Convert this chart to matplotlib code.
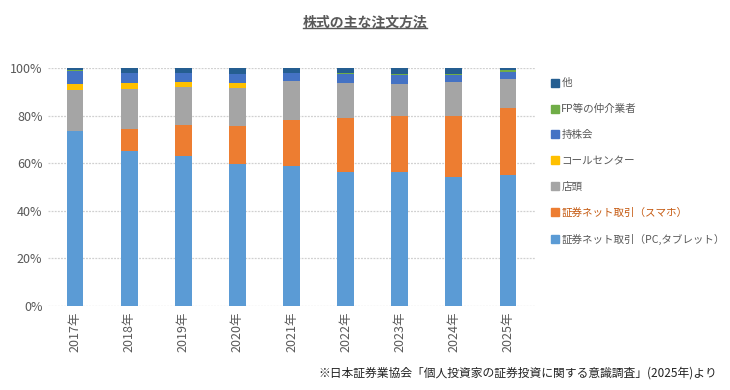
import matplotlib
matplotlib.use('Agg')
import matplotlib.pyplot as plt
from matplotlib.lines import Line2D
import numpy as np

plt.rcParams['font.family'] = ['Noto Sans CJK JP', 'DejaVu Sans']

years = ['2017年', '2018年', '2019年', '2020年', '2021年', '2022年', '2023年', '2024年', '2025年']

# percent shares, bottom to top
pc = [73.6, 65.2, 63.1, 59.7, 58.9, 56.4, 56.4, 54.3, 55.1]
smartphone = [0.0, 9.3, 13.1, 16.0, 19.1, 22.4, 23.3, 25.6, 27.9]
tento = [17.3, 16.8, 15.9, 16.0, 16.7, 15.0, 13.7, 14.3, 12.5]
call_center = [2.5, 2.5, 2.1, 2.1, 0.0, 0.0, 0.0, 0.0, 0.0]
mochikabu = [5.2, 4.2, 3.8, 3.8, 3.3, 3.8, 3.8, 3.0, 3.0]
fp = [0.4, 0.0, 0.0, 0.0, 0.0, 0.4, 0.4, 0.4, 0.8]
other = [1.0, 2.0, 2.0, 2.4, 2.0, 2.0, 2.4, 2.4, 0.7]

series = [
    ('証券ネット取引（PC,タブレット）', pc, '#5B9BD5'),
    ('証券ネット取引（スマホ）', smartphone, '#ED7D31'),
    ('店頭', tento, '#A5A5A5'),
    ('コールセンター', call_center, '#FFC000'),
    ('持株会', mochikabu, '#4472C4'),
    ('FP等の仲介業者', fp, '#70AD47'),
    ('他', other, '#255E91'),
]

text_gray = '#595959'

fig = plt.figure(figsize=(7.3, 3.9), dpi=100)
ax = fig.add_axes([48 / 730, 1 - 306 / 390, 487 / 730, 238 / 390])

x = np.arange(len(years))
bottom = np.zeros(len(years))
handles = []
for name, vals, col in series:
    v = np.array(vals) / 100.0
    ax.bar(x, v, width=0.31, bottom=bottom, color=col, zorder=3)
    bottom += v
    handles.append((name, col))

ax.set_xlim(-0.5, len(years) - 0.5)
ax.set_ylim(0, 1.0)
ax.set_yticks(np.arange(0, 1.01, 0.2))
ax.set_yticklabels(['%d%%' % (t * 100) for t in np.arange(0, 1.01, 0.2)],
                   color=text_gray, fontsize=9)
ax.set_xticks(x)
ax.set_xticklabels(years, rotation=90, color=text_gray, fontsize=9)
ax.tick_params(length=0, pad=4)
ax.yaxis.grid(True, color='#d0d0d0', linestyle=(0, (1.5, 1)), linewidth=0.9, zorder=0)
for s in ax.spines.values():
    s.set_visible(False)

# legend, reversed order like the original
leg_handles = []
leg_labels = []
for name, col in reversed(handles):
    leg_handles.append(Line2D([], [], marker='s', linestyle='none', markersize=5.5,
                              markerfacecolor=col, markeredgecolor=col))
    leg_labels.append(name)
leg = fig.legend(leg_handles, leg_labels, loc='upper left',
                 bbox_to_anchor=(545 / 730, 1 - 74 / 390), frameon=False,
                 fontsize=7.6, labelspacing=1.5, handletextpad=0.15,
                 handlelength=1.0, borderaxespad=0)
for t in leg.get_texts():
    t.set_color(text_gray)
leg.get_texts()[5].set_color('#C55A11')

# title with underline
title = fig.text(365 / 730, 1 - 23 / 390, '株式の主な注文方法', ha='center', va='center',
                 fontsize=10, fontweight='bold', color=text_gray)
fig.canvas.draw()
bb = title.get_window_extent(renderer=fig.canvas.get_renderer())
bb = bb.transformed(fig.transFigure.inverted())
fig.add_artist(Line2D([bb.x0, bb.x1], [bb.y0 + 0.004, bb.y0 + 0.004],
                      transform=fig.transFigure, color=text_gray, linewidth=1.0))

fig.text(717 / 730, 1 - 373 / 390,
         '※日本証券業協会「個人投資家の証券投資に関する意識調査」(2025年)より',
         ha='right', va='center', fontsize=8.5, color='#222222')

fig.savefig('out.png', dpi=100)
